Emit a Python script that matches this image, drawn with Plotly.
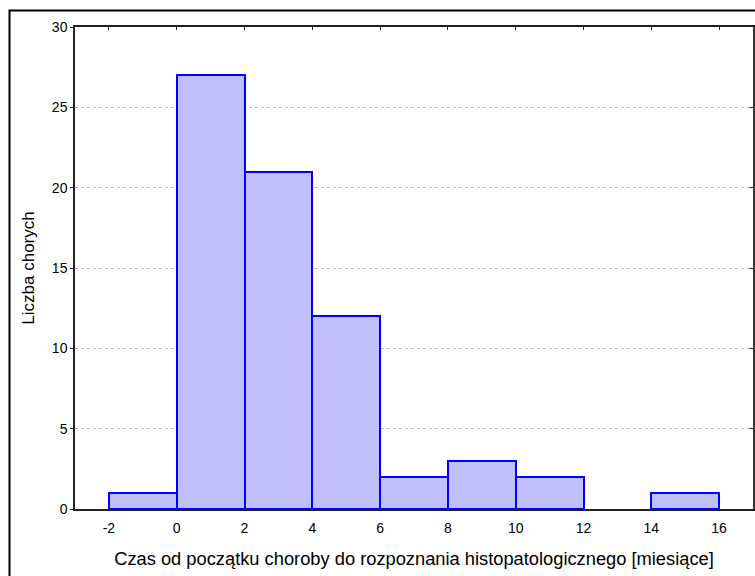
import plotly.graph_objects as go

bin_starts = [-2, 0, 2, 4, 6, 8, 10, 12, 14]
bin_width = 2
counts = [1, 27, 21, 12, 2, 3, 2, 0, 1]
x_ticks = [-2, 0, 2, 4, 6, 8, 10, 12, 14, 16]
x_tick_text = ["-2", "0", "2", "4", "6", "8", "10", "12", "14", "16"]
y_ticks = [0, 5, 10, 15, 20, 25, 30]

x_title = "Czas od początku choroby do rozpoznania histopatologicznego [miesiące]"
y_title = "Liczba chorych"

fig = go.Figure()
fig.add_trace(go.Bar(
    x=bin_starts, y=counts, width=bin_width, offset=0,
    marker=dict(color="#c0c0ff",
                line=dict(color="#0000ff", width=[2 if c > 0 else 0 for c in counts])),
    showlegend=False,
))
# invisible trace to activate top/right axes
fig.add_trace(go.Scatter(x=[None], y=[None], xaxis="x2", yaxis="y2", showlegend=False))

font = dict(family="Liberation Sans, Arial, sans-serif", color="#000000")
L, R, T, B = 75, 2, 27, 67
W, H = 755, 576
pw, ph = W - L - R, H - T - B

fig.update_layout(
    width=W, height=H,
    margin=dict(l=L, r=R, t=T, b=B, pad=0),
    paper_bgcolor="white", plot_bgcolor="white",
    font=dict(size=14, **font),
    bargap=0,
    xaxis=dict(range=[-3, 17], tickvals=x_ticks, ticktext=x_tick_text,
               showgrid=False, zeroline=False,
               showline=True, linecolor="#222222", linewidth=1.5,
               ticks="", tickfont=dict(size=14, **font), ticklabelstandoff=5,
               title=dict(text=x_title, font=dict(size=18.3, **font), standoff=18)),
    yaxis=dict(range=[0, 30], tickvals=y_ticks, showgrid=True,
               gridcolor="#b8b8b8", griddash="dot", gridwidth=1, zeroline=False,
               showline=True, linecolor="#222222", linewidth=1.5,
               ticks="outside", ticklen=3, tickcolor="#222222", tickwidth=1,
               tickfont=dict(size=14, **font),
               title=dict(text=y_title, font=dict(size=17, **font), standoff=13)),
    xaxis2=dict(range=[-3, 17], tickvals=x_ticks, overlaying="x", side="top",
                showgrid=False, zeroline=False, showline=True, linecolor="#222222",
                linewidth=1.5, ticks="inside", ticklen=3, tickcolor="#222222",
                showticklabels=False),
    yaxis2=dict(range=[0, 30], tickvals=y_ticks, overlaying="y", side="right",
                showgrid=False, zeroline=False, showline=True, linecolor="#333333",
                linewidth=2, ticks="inside", ticklen=3, tickcolor="#222222",
                showticklabels=False),
)

# outer frame (left & top visible, rest extends beyond the page)
x0 = (9.5 - L) / pw
y1 = 1 + (T - 10.5) / ph
fig.add_shape(type="rect", xref="paper", yref="paper",
              x0=x0, x1=1.2, y0=-0.3, y1=y1,
              line=dict(color="black", width=2), fillcolor="rgba(0,0,0,0)", layer="above")

fig.write_html("out.html")
